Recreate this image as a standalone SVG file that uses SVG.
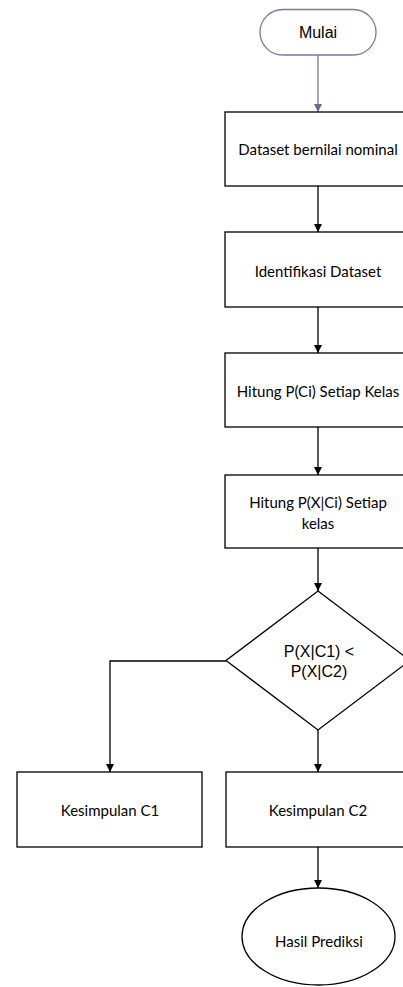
<svg xmlns="http://www.w3.org/2000/svg" width="403" height="987" viewBox="0 0 403 987">
<style>
.box{fill:#fff;stroke:#000;stroke-width:1.3}
.t{font-family:Lato,"Open Sans",sans-serif;font-size:15px;fill:#000;text-anchor:middle;dominant-baseline:central}
.a{font-family:"Liberation Sans",Arial,sans-serif;font-size:16px;fill:#000;text-anchor:middle;dominant-baseline:central}
.c{fill:none;stroke:#000;stroke-width:1.3}
</style>
<defs>
<marker id="ah" viewBox="0 0 8 8" refX="8" refY="4" markerWidth="8" markerHeight="8" markerUnits="userSpaceOnUse" orient="auto">
<path d="M0,0 L8,4 L0,8 z" fill="#000"/>
</marker>
<marker id="ahp" viewBox="0 0 8 8" refX="8" refY="4" markerWidth="8" markerHeight="8" markerUnits="userSpaceOnUse" orient="auto">
<path d="M0,0 L8,4 L0,8 z" fill="#6f6799"/>
</marker>
</defs>
<rect width="403" height="987" fill="#fff"/>
<g id="connectors">
<path d="M318,55 V112" fill="none" stroke="#7d74a8" stroke-width="1.3" marker-end="url(#ahp)"/>
<path class="c" d="M318,186 V232" marker-end="url(#ah)"/>
<path class="c" d="M318,307 V353" marker-end="url(#ah)"/>
<path class="c" d="M318,427 V475" marker-end="url(#ah)"/>
<path class="c" d="M318,548 V591" marker-end="url(#ah)"/>
<path class="c" d="M226,661 H110 V772" marker-end="url(#ah)"/>
<path class="c" d="M318,730 V772" marker-end="url(#ah)"/>
<path class="c" d="M318,847 V888" marker-end="url(#ah)"/>
</g>
<g id="mulai">
<rect x="260" y="9.5" width="116" height="45.5" rx="22.75" fill="#fff" stroke="#7d74a8" stroke-width="1.3"/>
<text class="a" x="318" y="32.5">Mulai</text>
</g>
<g id="dataset">
<rect class="box" x="225" y="112" width="186" height="74"/>
<text class="t" x="318" y="149">Dataset bernilai nominal</text>
</g>
<g id="identifikasi">
<rect class="box" x="225" y="232" width="186" height="75"/>
<text class="t" x="318" y="271">Identifikasi Dataset</text>
</g>
<g id="hitung-pci">
<rect class="box" x="225" y="353" width="186" height="74"/>
<text class="t" x="318" y="391">Hitung P(Ci) Setiap Kelas</text>
</g>
<g id="hitung-pxci">
<rect class="box" x="225" y="475" width="186" height="73"/>
<text class="t" x="318" y="502">Hitung P(X|Ci) Setiap</text>
<text class="t" x="318" y="523">kelas</text>
</g>
<g id="decision">
<polygon class="box" points="318,591 410,660.5 318,730 226,660.5"/>
<text class="a" x="319" y="651">P(X|C1) &lt;</text>
<text class="a" x="319" y="671">P(X|C2)</text>
</g>
<g id="kesimpulan-c1">
<rect class="box" x="17" y="772" width="185" height="75"/>
<text class="t" x="110" y="810">Kesimpulan C1</text>
</g>
<g id="kesimpulan-c2">
<rect class="box" x="226" y="772" width="185" height="75"/>
<text class="t" x="318" y="810">Kesimpulan C2</text>
</g>
<g id="hasil">
<ellipse class="box" cx="318.5" cy="936.5" rx="76.5" ry="48.5"/>
<text class="t" x="319" y="941">Hasil Prediksi</text>
</g>
</svg>
